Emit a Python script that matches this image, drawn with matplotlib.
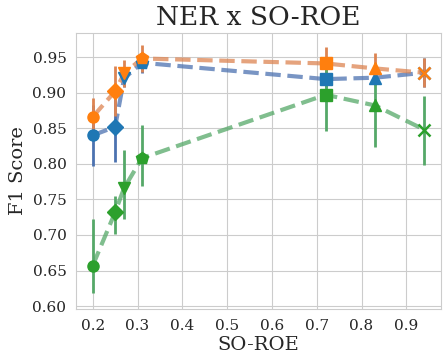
import numpy as np
import matplotlib
matplotlib.use("Agg")
import matplotlib.pyplot as plt
import seaborn as sns

# data
x = [0.2, 0.25, 0.27, 0.31, 0.72, 0.83, 0.94]
markers = ["o", "D", "v", "p", "s", "^", "x"]

blue_y = [0.840, 0.852, 0.920, 0.942, 0.919, 0.921, 0.928]
blue_lo = [0.043, 0.049, 0.012, 0.015, 0.012, 0.010, 0.020]
blue_hi = [0.043, 0.049, 0.012, 0.015, 0.012, 0.010, 0.020]

orange_y = [0.866, 0.902, 0.927, 0.948, 0.941, 0.934, 0.928]
orange_lo = [0.026, 0.035, 0.019, 0.019, 0.023, 0.022, 0.020]
orange_hi = [0.026, 0.035, 0.019, 0.019, 0.023, 0.022, 0.020]

green_y = [0.657, 0.732, 0.766, 0.808, 0.897, 0.882, 0.848]
green_lo = [0.039, 0.031, 0.044, 0.039, 0.051, 0.059, 0.049]
green_hi = [0.066, 0.023, 0.054, 0.047, 0.051, 0.059, 0.047]

sns.set_style("whitegrid")
plt.rcParams["font.family"] = ["DejaVu Serif"]

fig = plt.figure(figsize=(4.48, 3.61), dpi=100)
ax = fig.add_axes([0.170, 0.144, 0.814, 0.765])

deep = sns.color_palette("deep")
series = [
    (blue_y, blue_lo, blue_hi, deep[0], "#1f77b4"),
    (orange_y, orange_lo, orange_hi, deep[1], "#ff7f0e"),
    (green_y, green_lo, green_hi, deep[2], "#2ca02c"),
]

for ys, lo, hi, lcolor, mcolor in series:
    ax.plot(x, ys, "--", color=lcolor, lw=3, alpha=0.75, zorder=2)
    for xi, yi, el, eh, m in zip(x, ys, lo, hi, markers):
        ms = 9 if m in ("p", "s") else 8
        ax.errorbar(xi, yi, yerr=[[el], [eh]], fmt=m, color=mcolor,
                    ecolor=lcolor, elinewidth=2, ms=ms,
                    mew=1.8 if m == "x" else 1, zorder=3)

ax.set_xlim(0.163, 0.977)
ax.set_ylim(0.596, 0.984)
ax.set_xticks([0.2, 0.3, 0.4, 0.5, 0.6, 0.7, 0.8, 0.9])
ax.set_yticks([0.60, 0.65, 0.70, 0.75, 0.80, 0.85, 0.90, 0.95])
ax.set_yticklabels(["%.2f" % v for v in ax.get_yticks()])
ax.tick_params(labelsize=11)

ax.set_title("NER x SO-ROE", fontsize=19)
ax.set_xlabel("SO-ROE", fontsize=14, labelpad=2)
ax.set_ylabel("F1 Score", fontsize=14)

fig.savefig("out.png", dpi=100)
